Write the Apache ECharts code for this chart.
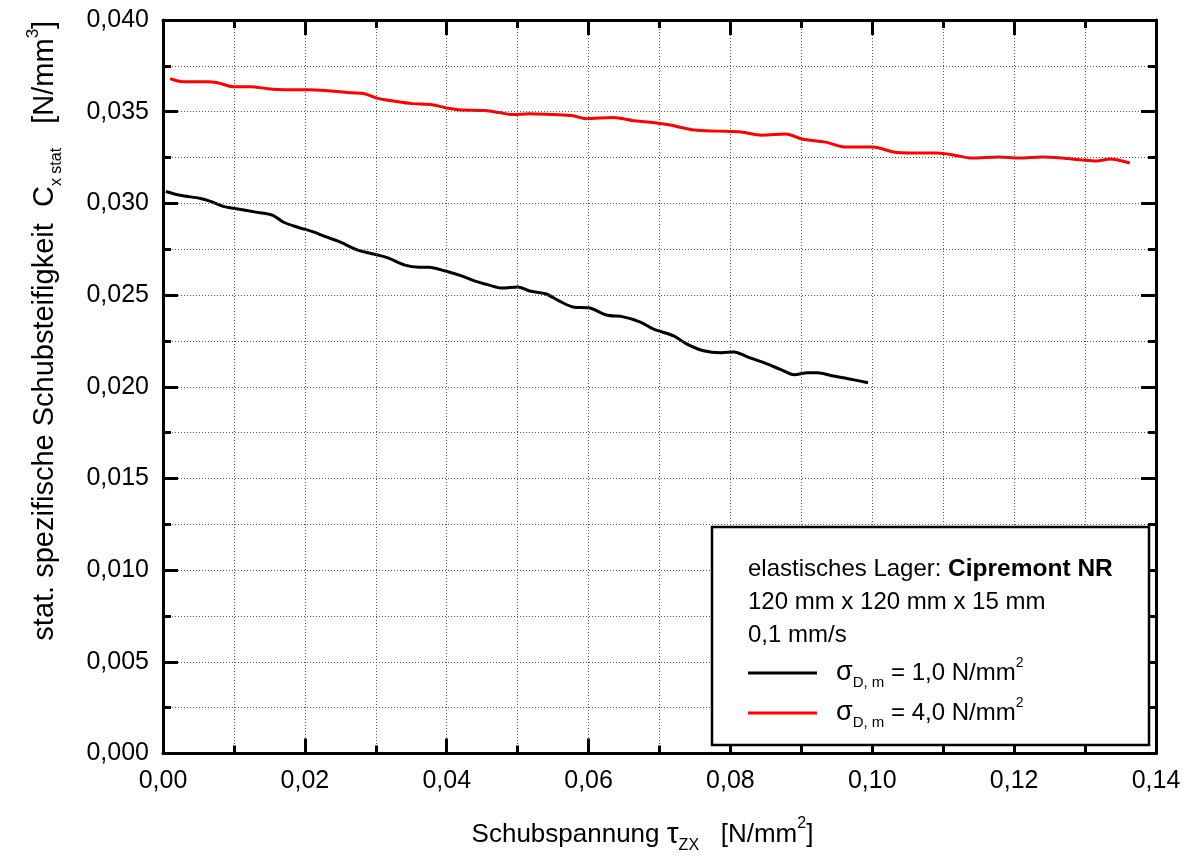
<!DOCTYPE html>
<html><head><meta charset="utf-8">
<script src="https://cdn.jsdelivr.net/npm/echarts@6/dist/echarts.min.js"></script>
<style>html,body{margin:0;padding:0;background:#fff}#c{width:1193px;height:858px}</style>
</head><body><div id="c"></div>
<script>
// ---- data ----
const tau1 = [0.0004,0.0024,0.0053,0.0067,0.0085,0.0099,0.0133,0.0155,0.0170,0.0190,0.0213,0.0227,0.0247,0.0275,0.0304,0.0318,0.0341,0.0361,0.0375,0.0398,0.0422,0.0440,0.0460,0.0478,0.0500,0.0517,0.0540,0.0559,0.0578,0.0602,0.0625,0.0649,0.0673,0.0691,0.0720,0.0738,0.0762,0.0787,0.0805,0.0824,0.0848,0.0872,0.0890,0.0909,0.0923,0.0943,0.0966,0.0994];
const c1 = [0.03065,0.03044,0.03027,0.03011,0.02984,0.02973,0.02951,0.02935,0.02897,0.0287,0.02843,0.02821,0.02794,0.02745,0.02717,0.02701,0.02663,0.02652,0.02652,0.02631,0.02603,0.02576,0.02554,0.02538,0.02544,0.02522,0.02506,0.02467,0.02435,0.02429,0.02391,0.02381,0.02353,0.02315,0.02277,0.02234,0.02196,0.02185,0.0219,0.02163,0.0213,0.02092,0.02065,0.02076,0.02076,0.0206,0.02044,0.02022];
const tau4 = [0.0010,0.0028,0.0062,0.0077,0.0099,0.0124,0.0148,0.0170,0.0204,0.0233,0.0266,0.0284,0.0304,0.0322,0.0351,0.0379,0.0398,0.0417,0.0454,0.0474,0.0493,0.0517,0.0549,0.0578,0.0596,0.0635,0.0663,0.0687,0.0715,0.0749,0.0782,0.0815,0.0844,0.0878,0.0901,0.0934,0.0963,0.1001,0.1030,0.1054,0.1092,0.1116,0.1140,0.1178,0.1206,0.1240,0.1268,0.1297,0.1316,0.1335,0.1363];
const c4 = [0.0368,0.03663,0.03663,0.03658,0.03636,0.03636,0.03625,0.0362,0.0362,0.03614,0.03603,0.03598,0.03571,0.0356,0.03544,0.03538,0.03522,0.03511,0.03506,0.03495,0.03484,0.03489,0.03484,0.03478,0.03462,0.03468,0.03451,0.03443,0.03427,0.0340,0.03394,0.03389,0.03372,0.03378,0.03351,0.03334,0.03307,0.03307,0.0328,0.03275,0.03275,0.03263,0.03247,0.03253,0.03247,0.03253,0.03247,0.03236,0.03231,0.03242,0.0322];
const seriesNames = ['σD,m = 1,0 N/mm²', 'σD,m = 4,0 N/mm²'];
const seriesValueText = ['1,0', '4,0'];
const seriesColors = ['#000000', '#ff0000'];
const xRange = [0, 0.14], xStep = 0.02;
const yRange = [0, 0.040], yStep = 0.005;
const infoLines = ['elastisches Lager: ', 'Cipremont NR', '120 mm x 120 mm x 15 mm', '0,1 mm/s'];

// ---- chart ----
const FONT = "'Liberation Sans', Arial, sans-serif";
const chart = echarts.init(document.getElementById('c'));
const gridLine = {show:true, lineStyle:{color:'#555', width:1, type:[1,2]}};
const blk = {color:'#000', width:3};
function axis(pos, isX, main){
  return {
    type:'value', position:pos,
    min: isX ? xRange[0] : yRange[0], max: isX ? xRange[1] : yRange[1],
    interval: isX ? xStep : yStep,
    axisLine:{show:true, onZero:false, lineStyle:blk},
    axisTick:{show:true, inside:true, length:15, lineStyle:blk},
    minorTick:{show:true, splitNumber:2, length:8, lineStyle:blk},
    splitLine: main ? gridLine : {show:false},
    minorSplitLine: main ? gridLine : {show:false},
    axisLabel: main ? {
      show:true, color:'#000', fontFamily:FONT, fontSize:25, margin: isX ? 15 : 14,
      formatter: v => v.toFixed(isX ? 2 : 3).replace('.', ',')
    } : {show:false},
    z: 5
  };
}
const xMain = axis('bottom', true, true);
xMain.name = '{t|Schubspannung }{tau|τ}{sub|ZX}{t|   [N/mm}{sup|2}{t|]}';
xMain.nameLocation = 'middle';
xMain.nameGap = 62;
xMain.nameTextStyle = {
  color:'#000', fontFamily:FONT, padding:[0,34,0,0],
  rich:{
    t:{fontFamily:FONT, fontSize:26, color:'#000', lineHeight:38, verticalAlign:'middle'},
    tau:{fontFamily:FONT, fontSize:30, color:'#000', lineHeight:38, verticalAlign:'middle'},
    sub:{fontFamily:FONT, fontSize:16, color:'#000', lineHeight:16, verticalAlign:'bottom'},
    sup:{fontFamily:FONT, fontSize:16, color:'#000', lineHeight:16, verticalAlign:'top'}
  }
};
const yMain = axis('left', false, true);
yMain.name = '{t|stat. spezifische Schubsteifigkeit  C}{sub|x stat}{t|   [N/mm}{sup|3}{t|]}';
yMain.nameLocation = 'middle';
yMain.nameGap = 98;
yMain.nameTextStyle = {
  color:'#000', fontFamily:FONT, padding:[0,0,0,112],
  rich:{
    t:{fontFamily:FONT, fontSize:29, color:'#000', lineHeight:40, verticalAlign:'middle'},
    sub:{fontFamily:FONT, fontSize:16, color:'#000', lineHeight:16, verticalAlign:'bottom'},
    sup:{fontFamily:FONT, fontSize:17, color:'#000', lineHeight:17, verticalAlign:'top'}
  }
};

function legendFor(i, top){
  return {
    data:[seriesNames[i]], left:748, top:top, orient:'vertical', padding:0,
    icon:'rect', itemWidth:69, itemHeight:3, z:30,
    formatter: () => '{s|σ}{sub|D, m}{t| = ' + seriesValueText[i] + ' N/mm}{sup|2}',
    textStyle:{
      fontFamily:FONT, color:'#000',
      rich:{
        s:{fontFamily:FONT, fontSize:27, color:'#000', lineHeight:34, verticalAlign:'middle', padding:[0,0,0,14]},
        t:{fontFamily:FONT, fontSize:24, color:'#000', lineHeight:34, verticalAlign:'middle'},
        sub:{fontFamily:FONT, fontSize:15, color:'#000', lineHeight:15, verticalAlign:'bottom'},
        sup:{fontFamily:FONT, fontSize:14, color:'#000', lineHeight:14, verticalAlign:'top'}
      }
    }
  };
}

const option = {
  animation:false,
  backgroundColor:'#fff',
  grid:{left:163, right:37, top:20, bottom:104.5, outerBoundsMode:'none', containLabel:false},
  xAxis:[xMain, axis('top', true, false)],
  yAxis:[yMain, axis('right', false, false)],
  legend:[legendFor(0, 656), legendFor(1, 696)],
  graphic:[
    {type:'rect', z:20, shape:{x:712, y:527, width:437, height:218},
     style:{fill:'#fff', stroke:'#000', lineWidth:2.5}},
    {type:'text', z:21, x:748, y:569,
     style:{text:'{n|' + infoLines[0] + '}{b|' + infoLines[1] + '}', verticalAlign:'middle',
       rich:{n:{fontFamily:FONT, fontSize:24, fill:'#000'}, b:{fontFamily:FONT, fontSize:24.5, fontWeight:'bold', fill:'#000'}}}},
    {type:'text', z:21, x:748, y:602,
     style:{text:infoLines[2], font:'24px ' + FONT, fill:'#000', verticalAlign:'middle'}},
    {type:'text', z:21, x:748, y:635,
     style:{text:infoLines[3], font:'24px ' + FONT, fill:'#000', verticalAlign:'middle'}}
  ],
  series:[
    {name:seriesNames[0], type:'line', xAxisIndex:0, yAxisIndex:0, showSymbol:false, symbol:'none', smooth:0.3,
     data:tau1.map((x,k)=>[x,c1[k]]), lineStyle:{color:seriesColors[0], width:3}, itemStyle:{color:seriesColors[0]}, z:3},
    {name:seriesNames[1], type:'line', xAxisIndex:0, yAxisIndex:0, showSymbol:false, symbol:'none', smooth:0.3,
     data:tau4.map((x,k)=>[x,c4[k]]), lineStyle:{color:seriesColors[1], width:3}, itemStyle:{color:seriesColors[1]}, z:3}
  ]
};
chart.setOption(option);
</script></body></html>
